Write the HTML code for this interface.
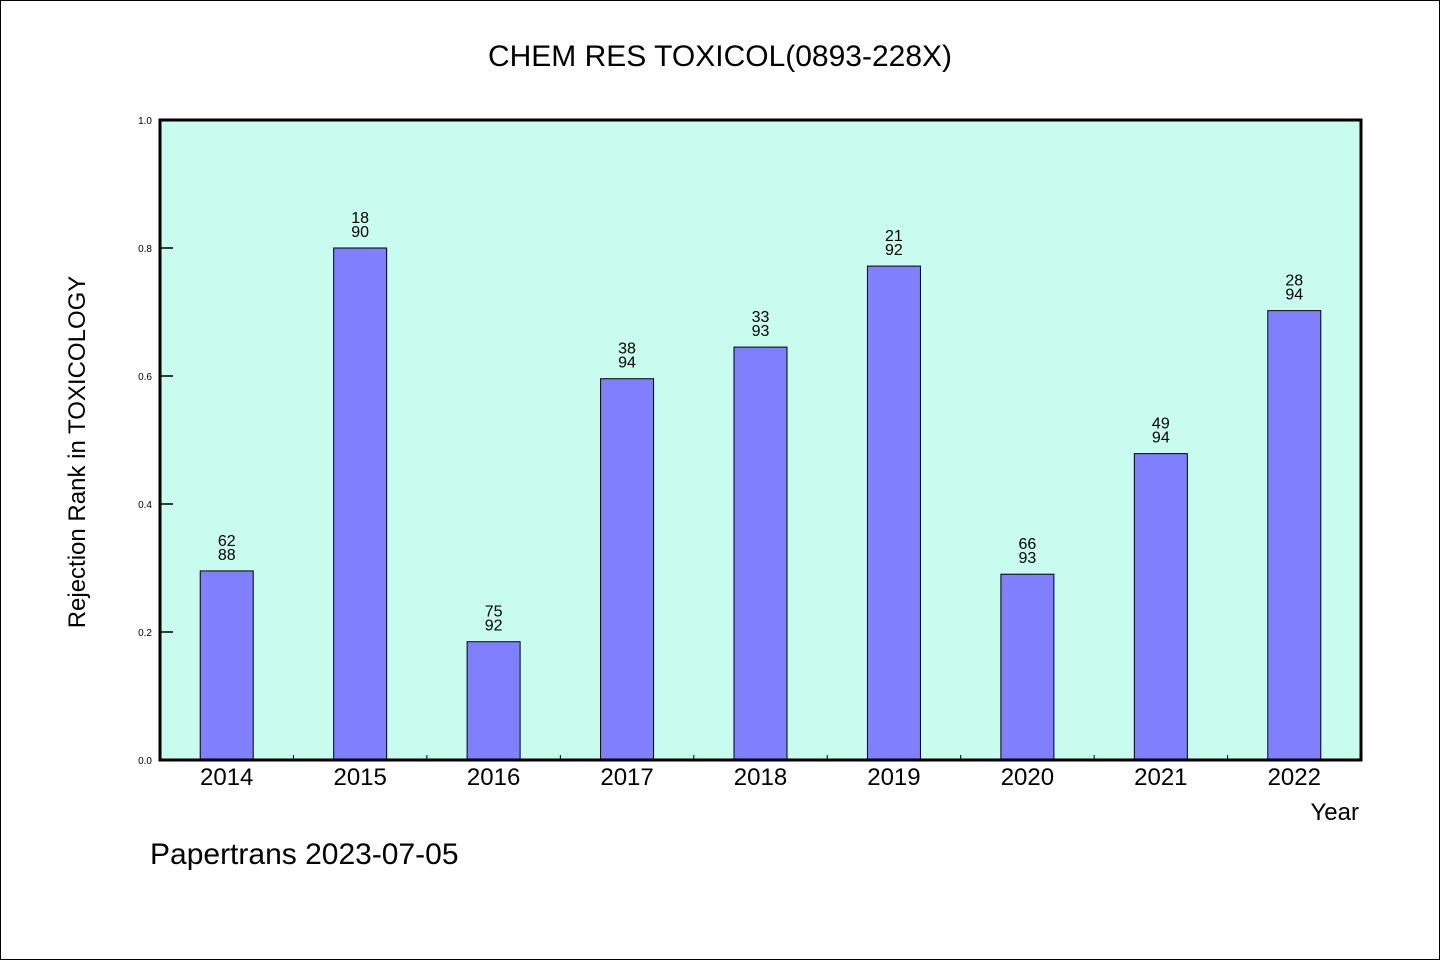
<!DOCTYPE html>
<html><head><meta charset="utf-8"><style>
body{margin:0;background:#fff}
svg{display:block;font-family:"WenQuanYi Zen Hei","Liberation Sans",sans-serif}
</style></head><body>
<svg id="chart" width="1440" height="960">
<rect x="0.5" y="0.5" width="1439" height="959" fill="#fff" stroke="#000"/>
<text x="720" y="66" text-anchor="middle" font-size="30">CHEM RES TOXICOL(0893-228X)</text>
<rect x="160" y="120" width="1201" height="640" fill="#c8fcee"/>
<g id="bars"></g>
<rect x="160" y="120" width="1201" height="640" fill="none" stroke="#000" stroke-width="3"/>
<text transform="translate(85,452) rotate(-90)" text-anchor="middle" font-size="24">Rejection Rank in TOXICOLOGY</text>
<text x="1359" y="820" text-anchor="end" font-size="24">Year</text>
<text x="150" y="864" font-size="30">Papertrans 2023-07-05</text>
</svg>
<script>
const categories=["2014","2015","2016","2017","2018","2019","2020","2021","2022"];
const ranks=[62,18,75,38,33,21,66,49,28];
const totals=[88,90,92,94,93,92,93,94,94];
const yTicks=[0,0.2,0.4,0.6,0.8,1.0];
const X0=160,X1=1361,Y0=760,Y1=120;
const step=(X1-X0)/categories.length;
const xC=i=>X0+step*(i+0.5);
const yS=v=>Y0-(v-0)/(1-0)*(Y0-Y1);
const NS="http://www.w3.org/2000/svg";
const g=document.getElementById('bars');
function mk(t,a){const e=document.createElementNS(NS,t);for(const k in a)e.setAttribute(k,a[k]);g.appendChild(e);return e;}
yTicks.forEach(v=>{
 const l=mk('line',{x1:X0,x2:X0+13,y1:yS(v),y2:yS(v),stroke:'#000','stroke-width':1.5});
 
 
 const t=mk('text',{x:X0-8,y:yS(v)+4,'text-anchor':'end','font-size':10});
 t.textContent=v.toFixed(1);
 
 
});
categories.forEach((c,i)=>{
 const v=1-ranks[i]/totals[i];
 const bw=53;
 const r=mk('rect',{x:xC(i)-bw/2,y:yS(v),width:bw,height:Y0-yS(v),fill:'#8080ff',stroke:'#000','stroke-width':1});
 
 
 const t1=mk('text',{x:xC(i),y:yS(v)-25,'text-anchor':'middle','font-size':16});
 t1.textContent=ranks[i];
 
 
 const t2=mk('text',{x:xC(i),y:yS(v)-11,'text-anchor':'middle','font-size':16});
 t2.textContent=totals[i];
 
 
 const xl=mk('text',{x:xC(i),y:785,'text-anchor':'middle','font-size':24});
 xl.textContent=c;
 
 
 if(i>0){
  const tk=mk('line',{x1:X0+step*i,x2:X0+step*i,y1:Y0,y2:Y0-5,stroke:'#000','stroke-width':1});
  
  
 }
});
</script>
</body></html>
